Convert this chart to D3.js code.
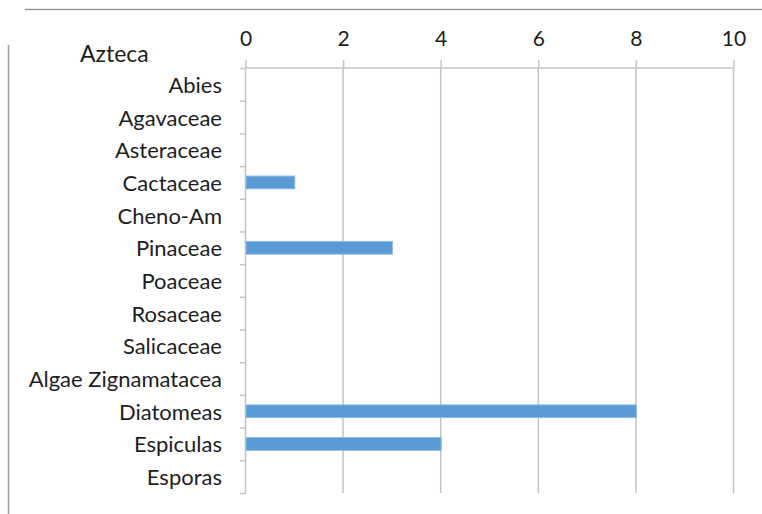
<!DOCTYPE html>
<html>
<head>
<meta charset="utf-8">
<script src="https://cdn.jsdelivr.net/npm/d3@7"></script>
<style>
  html, body { margin: 0; padding: 0; background: #fff; }
  svg { display: block; }
  text { font-family: Lato, "Open Sans", sans-serif; fill: #1e1e1e; }
</style>
</head>
<body>
<svg id="chart" width="762" height="514"></svg>
<script>
// Pollen / microfossil counts, Azteca sample
const categories = ["Abies", "Agavaceae", "Asteraceae", "Cactaceae", "Cheno-Am", "Pinaceae",
  "Poaceae", "Rosaceae", "Salicaceae", "Algae Zignamatacea", "Diatomeas", "Espiculas", "Esporas"];
const counts = [0, 0, 0, 1, 0, 3, 0, 0, 0, 0, 8, 4, 0];
const tickValues = [0, 2, 4, 6, 8, 10];
const title = "Azteca";

const svg = d3.select("#chart");
const plotLeft = 245, plotRight = 733, plotTop = 68, plotBottom = 493;
const fontStack = "Lato, 'Open Sans', sans-serif";

const x = d3.scaleLinear().domain([0, 10]).range([plotLeft, plotRight]);
const y = d3.scaleBand().domain(categories).range([plotTop, plotBottom]).paddingInner(0.61).paddingOuter(0.305);

// frame lines
svg.append("line").attr("x1", 25).attr("x2", 762).attr("y1", 9.5).attr("y2", 9.5)
  .attr("stroke", "#9a9a9a").attr("stroke-width", 1.5);
svg.append("line").attr("x1", 8.5).attr("x2", 8.5).attr("y1", 45).attr("y2", 514)
  .attr("stroke", "#9a9a9a").attr("stroke-width", 1.5);

// vertical gridlines
svg.append("g").selectAll("line").data(tickValues.slice(1)).join("line")
  .attr("x1", d => x(d) + 0.5).attr("x2", d => x(d) + 0.5)
  .attr("y1", plotTop).attr("y2", plotBottom)
  .attr("stroke", "#c4c4c4").attr("stroke-width", 1.5);

// top value axis
const xAxis = d3.axisTop(x).tickValues(tickValues).tickSize(8).tickPadding(14).tickFormat(d3.format("d"));
const gx = svg.append("g").attr("transform", `translate(0.5,${plotTop})`).call(xAxis);
gx.select(".domain").attr("stroke", "#c4c4c4").attr("stroke-width", 1.5).attr("d", `M${plotLeft},0H${plotRight}`);
gx.selectAll(".tick line").attr("stroke", "#c4c4c4").attr("stroke-width", 1.5);
gx.selectAll(".tick text").style("font-size", "21px").attr("fill", "#1e1e1e")
  .style("font-family", fontStack);

// category axis
const band = y.step();
const boundaries = d3.range(categories.length + 1).map(i => plotTop + i * band);
svg.append("line").attr("x1", plotLeft + 0.5).attr("x2", plotLeft + 0.5).attr("y1", plotTop).attr("y2", plotBottom)
  .attr("stroke", "#c4c4c4").attr("stroke-width", 1.5);
svg.append("g").selectAll("line").data(boundaries).join("line")
  .attr("x1", plotLeft - 5).attr("x2", plotLeft + 0.5)
  .attr("y1", d => d + 0.5).attr("y2", d => d + 0.5)
  .attr("stroke", "#c4c4c4").attr("stroke-width", 1.5);
svg.append("g").selectAll("text").data(categories).join("text")
  .attr("x", 222).attr("y", d => y(d) + y.bandwidth() / 2)
  .attr("text-anchor", "end").attr("dominant-baseline", "central")
  .style("font-size", "22px").text(d => d);

// bars
svg.append("g").selectAll("rect").data(categories.map((c, i) => ({ c, v: counts[i] })).filter(d => d.v > 0))
  .join("rect")
  .attr("x", x(0) + 1).attr("y", d => y(d.c))
  .attr("width", d => x(d.v) - x(0)).attr("height", y.bandwidth())
  .attr("fill", "#5b9bd5").attr("stroke", "#8fbbe6").attr("stroke-width", 1);

// title
svg.append("text").attr("x", 80).attr("y", 62).style("font-size", "23px").text(title);
</script>
</body>
</html>
